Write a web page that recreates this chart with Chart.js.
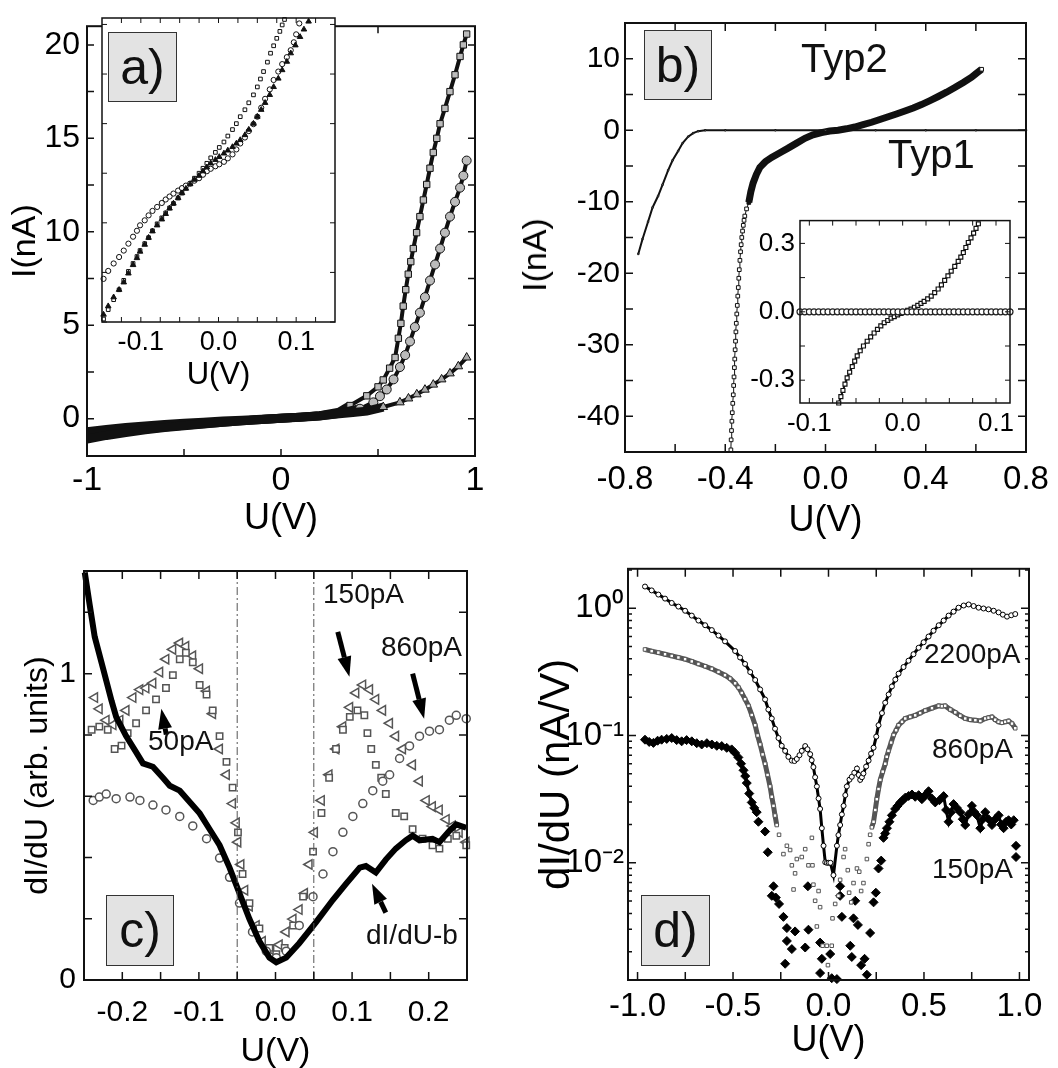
<!DOCTYPE html>
<html>
<head>
<meta charset="utf-8">
<script src="https://cdn.jsdelivr.net/npm/chart.js@4.4.1/dist/chart.umd.min.js"></script>
<style>
  html, body { margin: 0; padding: 0; background: #fff; }
  #page { position: relative; width: 1058px; height: 1068px; overflow: hidden; font-family: "Liberation Sans", Arial, sans-serif; }
  canvas { position: absolute; }
  .tag { position: absolute; background: #e3e3e3; border: 1px solid #333; box-sizing: border-box; text-align: center; font-size: 50px; line-height: 68px; color: #111; z-index: 5; }
  .note { position: absolute; font-size: 28px; line-height: 28px; white-space: nowrap; color: #111; z-index: 5; }
  .ytitle { position: absolute; font-size: 34px; line-height: 34px; white-space: nowrap; color: #000; transform: translate(-50%, -50%) rotate(-90deg); z-index: 5; }
</style>
</head>
<body>
<div id="page">
  <canvas id="cA"></canvas>
  <canvas id="cAi"></canvas>
  <canvas id="cB"></canvas>
  <canvas id="cBi"></canvas>
  <canvas id="cC"></canvas>
  <canvas id="cD"></canvas>

  <div class="ytitle" style="left:534px;top:255px;">I(nA)</div>

  <div class="tag" style="left:108px;top:32px;width:69px;height:70px;">a)</div>
  <div class="tag" style="left:644px;top:30px;width:68px;height:70px;">b)</div>
  <div class="tag" style="left:106px;top:895px;width:68px;height:71px;">c)</div>
  <div class="tag" style="left:641px;top:895px;width:69px;height:71px;">d)</div>

  <div class="note" style="left:801px;top:38px;font-size:40px;line-height:40px;">Typ2</div>
  <div class="note" style="left:888px;top:134px;font-size:40px;line-height:40px;">Typ1</div>
  <div class="note" style="left:323px;top:580px;">150pA</div>
  <div class="note" style="left:381px;top:633px;">860pA</div>
  <div class="note" style="left:148px;top:727px;">50pA</div>
  <div class="note" style="left:366px;top:921px;">dI/dU-b</div>
  <div class="note" style="left:924px;top:640px;">2200pA</div>
  <div class="note" style="left:932px;top:735px;">860pA</div>
  <div class="note" style="left:932px;top:855px;">150pA</div>
</div>
<script>
const FONT = '"Liberation Sans", Arial, sans-serif';

// ---- tick positions and labels ----
const aXTicks = [[-1, '-1'], [-0.5, ''], [0, '0'], [0.5, ''], [1, '1']];
const aYTicks = [[0, '0'], [2.5, ''], [5, '5'], [7.5, ''], [10, '10'], [12.5, ''], [15, '15'], [17.5, ''], [20, '20']];
const aiXTicks = [[-0.125, ''], [-0.1, '-0.1'], [-0.075, ''], [-0.05, ''], [-0.025, ''], [0, '0.0'], [0.025, ''], [0.05, ''], [0.075, ''], [0.1, '0.1'], [0.125, '']];
const aiYTicks = [[-3, ''], [-2, ''], [-1, ''], [0, ''], [1, ''], [2, ''], [3, '']];
const bXTicks = [[-0.8, '-0.8'], [-0.6, ''], [-0.4, '-0.4'], [-0.2, ''], [0, '0.0'], [0.2, ''], [0.4, '0.4'], [0.6, ''], [0.8, '0.8']];
const bYTicks = [[-45, ''], [-40, '-40'], [-35, ''], [-30, '-30'], [-25, ''], [-20, '-20'], [-15, ''], [-10, '-10'], [-5, ''], [0, '0'], [5, ''], [10, '10'], [15, '']];
const biXTicks = [[-0.1, '-0.1'], [-0.075, ''], [-0.05, ''], [-0.025, ''], [0, '0.0'], [0.025, ''], [0.05, ''], [0.075, ''], [0.1, '0.1']];
const biYTicks = [[-0.3, '-0.3'], [-0.15, ''], [0, '0.0'], [0.15, ''], [0.3, '0.3']];
const cXTicks = [[-0.2, '-0.2'], [-0.15, ''], [-0.1, '-0.1'], [-0.05, ''], [0, '0.0'], [0.05, ''], [0.1, '0.1'], [0.15, ''], [0.2, '0.2']];
const cYTicks = [[0, '0'], [0.2, ''], [0.4, ''], [0.6, ''], [0.8, ''], [1, '1'], [1.2, '']];
const dXTicks = [[-1, '-1.0'], [-0.75, ''], [-0.5, '-0.5'], [-0.25, ''], [0, '0.0'], [0.25, ''], [0.5, '0.5'], [0.75, ''], [1, '1.0']];
const dYTicks = [[0.002, '', 1], [0.003, '', 1], [0.004, '', 1], [0.005, '', 1], [0.006, '', 1], [0.007, '', 1], [0.008, '', 1], [0.009, '', 1],
  [0.01, '10\u207B\u00B2'], [0.02, '', 1], [0.03, '', 1], [0.04, '', 1], [0.05, '', 1], [0.06, '', 1], [0.07, '', 1], [0.08, '', 1], [0.09, '', 1],
  [0.1, '10\u207B\u00B9'], [0.2, '', 1], [0.3, '', 1], [0.4, '', 1], [0.5, '', 1], [0.6, '', 1], [0.7, '', 1], [0.8, '', 1], [0.9, '', 1],
  [1, '10\u2070'], [2, '', 1]];

// ---- a) I(U), three curves ----
const aSquares = [[-1.0, -1.0], [-0.9, -0.82], [-0.8, -0.68], [-0.7, -0.56], [-0.6, -0.45], [-0.5, -0.36], [-0.4, -0.27], [-0.3, -0.19], [-0.2, -0.12], [-0.1, -0.05], [0.0, 0.02], [0.1, 0.08], [0.2, 0.16], [0.3, 0.35], [0.356, 0.70], [0.442, 1.22], [0.5, 1.7], [0.527, 2.07], [0.56, 2.7], [0.588, 3.27], [0.605, 4.3], [0.618, 5.1], [0.630, 6.02], [0.643, 6.9], [0.656, 7.73], [0.669, 8.4], [0.682, 9.1], [0.699, 9.95], [0.716, 10.81], [0.734, 11.7], [0.751, 12.53], [0.768, 13.4], [0.785, 14.24], [0.803, 15.0], [0.820, 15.78], [0.845, 16.6], [0.871, 17.5], [0.897, 18.4], [0.923, 19.38], [0.94, 20.0], [0.957, 20.58]];
const aCircles = [[-1.0, -0.7], [-0.9, -0.58], [-0.8, -0.48], [-0.7, -0.4], [-0.6, -0.32], [-0.5, -0.25], [-0.4, -0.19], [-0.3, -0.13], [-0.2, -0.08], [-0.1, -0.03], [0.0, 0.02], [0.1, 0.07], [0.2, 0.14], [0.3, 0.28], [0.407, 0.53], [0.476, 0.87], [0.51, 1.2], [0.545, 1.56], [0.58, 2.1], [0.613, 2.76], [0.64, 3.4], [0.665, 4.13], [0.69, 4.9], [0.716, 5.67], [0.742, 6.5], [0.768, 7.39], [0.794, 8.25], [0.820, 9.1], [0.845, 9.95], [0.871, 10.81], [0.897, 11.6], [0.923, 12.36], [0.94, 13.0], [0.957, 13.81]];
const aTriangles = [[-1.0, -1.1], [-0.9, -0.9], [-0.8, -0.74], [-0.7, -0.6], [-0.6, -0.48], [-0.5, -0.38], [-0.4, -0.29], [-0.3, -0.2], [-0.2, -0.12], [-0.1, -0.05], [0.0, 0.02], [0.1, 0.08], [0.2, 0.15], [0.3, 0.26], [0.37, 0.33], [0.442, 0.40], [0.527, 0.62], [0.613, 0.87], [0.657, 1.08], [0.70, 1.30], [0.742, 1.55], [0.785, 1.82], [0.828, 2.1], [0.871, 2.42], [0.914, 2.8], [0.957, 3.27]];

// a) inset, zoom around 0 V (arbitrary units)
const aiSquares = [[-0.148, -2.94], [-0.142, -2.75], [-0.135, -2.55], [-0.128, -2.35], [-0.122, -2.16], [-0.116, -1.98], [-0.11, -1.82], [-0.105, -1.68], [-0.101, -1.56], [-0.095, -1.42], [-0.09, -1.3], [-0.085, -1.16], [-0.079, -1.02], [-0.073, -0.9], [-0.068, -0.8], [-0.063, -0.7], [-0.058, -0.61], [-0.052, -0.5], [-0.047, -0.4], [-0.042, -0.3], [-0.0365, -0.21], [-0.031, -0.1], [-0.025, 0.0], [-0.02, 0.1], [-0.015, 0.2], [-0.01, 0.31], [-0.004, 0.42], [0.001, 0.52], [0.007, 0.63], [0.012, 0.75], [0.018, 0.88], [0.023, 1.0], [0.028, 1.14], [0.034, 1.28], [0.039, 1.42], [0.045, 1.58], [0.05, 1.74], [0.054, 1.9], [0.058, 2.05], [0.063, 2.24], [0.067, 2.42], [0.071, 2.57], [0.075, 2.72], [0.079, 2.86], [0.082, 2.99], [0.085, 3.1]];
const aiCircles = [[-0.148, -2.13], [-0.142, -1.97], [-0.135, -1.82], [-0.128, -1.69], [-0.122, -1.56], [-0.116, -1.42], [-0.11, -1.28], [-0.105, -1.16], [-0.101, -1.05], [-0.095, -0.95], [-0.09, -0.85], [-0.085, -0.76], [-0.079, -0.68], [-0.073, -0.6], [-0.068, -0.53], [-0.063, -0.47], [-0.058, -0.41], [-0.052, -0.35], [-0.047, -0.3], [-0.042, -0.25], [-0.0365, -0.21], [-0.031, -0.15], [-0.025, -0.1], [-0.02, -0.03], [-0.015, 0.04], [-0.01, 0.09], [-0.004, 0.14], [0.001, 0.18], [0.007, 0.23], [0.012, 0.3], [0.018, 0.38], [0.023, 0.48], [0.028, 0.6], [0.034, 0.72], [0.039, 0.85], [0.045, 0.99], [0.05, 1.14], [0.055, 1.32], [0.06, 1.5], [0.066, 1.69], [0.071, 1.88], [0.077, 2.05], [0.082, 2.2], [0.088, 2.34], [0.093, 2.48], [0.097, 2.64], [0.1, 2.8], [0.104, 3.02]];
const aiTriangles = [[-0.148, -2.85], [-0.142, -2.68], [-0.135, -2.5], [-0.128, -2.35], [-0.122, -2.2], [-0.116, -2.02], [-0.11, -1.85], [-0.105, -1.71], [-0.101, -1.58], [-0.095, -1.44], [-0.09, -1.3], [-0.085, -1.17], [-0.079, -1.05], [-0.073, -0.93], [-0.068, -0.82], [-0.063, -0.71], [-0.058, -0.61], [-0.052, -0.5], [-0.047, -0.4], [-0.042, -0.31], [-0.0365, -0.22], [-0.031, -0.13], [-0.025, -0.05], [-0.02, 0.04], [-0.015, 0.12], [-0.01, 0.2], [-0.004, 0.27], [0.001, 0.33], [0.007, 0.4], [0.012, 0.46], [0.018, 0.53], [0.023, 0.6], [0.028, 0.67], [0.034, 0.77], [0.039, 0.88], [0.045, 1.0], [0.05, 1.14], [0.055, 1.28], [0.06, 1.42], [0.066, 1.58], [0.071, 1.74], [0.077, 1.91], [0.082, 2.08], [0.088, 2.25], [0.093, 2.42], [0.099, 2.58], [0.105, 2.75], [0.11, 2.9], [0.116, 3.06]];

// ---- b) Typ1 / Typ2 ----
const bTyp1 = [[-0.747, -17.3], [-0.73, -15.2], [-0.708, -12.8], [-0.69, -10.8], [-0.668, -9.2], [-0.65, -7.6], [-0.628, -5.6], [-0.61, -4.2], [-0.588, -2.9], [-0.57, -1.8], [-0.548, -0.9], [-0.528, -0.4], [-0.508, -0.13], [-0.48, 0], [-0.4, 0], [-0.2, 0], [0, 0], [0.2, 0], [0.4, 0], [0.6, 0], [0.8, 0]];
const bTyp2 = [[-0.3775, -44.7], [-0.3765, -43.3], [-0.375, -42], [-0.3735, -40.7], [-0.372, -39.5], [-0.370, -38.2], [-0.368, -37], [-0.3665, -35.7], [-0.365, -34.5], [-0.3635, -33.2], [-0.362, -32], [-0.3605, -30.7], [-0.359, -29.5], [-0.3575, -28.2], [-0.356, -27], [-0.354, -25.7], [-0.352, -24.5], [-0.350, -23.2], [-0.348, -22], [-0.346, -20.7], [-0.344, -19.5], [-0.3415, -18.2], [-0.339, -17], [-0.3365, -16], [-0.334, -15], [-0.331, -14.1], [-0.328, -13.3], [-0.325, -12.6], [-0.322, -12], [-0.315, -11], [-0.306, -10.1], [-0.298, -8.6], [-0.289, -7.4], [-0.276, -6.2], [-0.262, -5.2], [-0.24, -4.4], [-0.215, -3.8], [-0.18, -3.1], [-0.149, -2.5], [-0.115, -1.8], [-0.082, -1.13], [-0.05, -0.65], [-0.016, -0.32], [0.017, -0.1], [0.05, 0], [0.083, 0.2], [0.117, 0.45], [0.15, 0.78], [0.184, 1.12], [0.217, 1.5], [0.25, 1.89], [0.283, 2.28], [0.317, 2.7], [0.35, 3.12], [0.383, 3.59], [0.417, 4.15], [0.45, 4.72], [0.483, 5.32], [0.516, 5.97], [0.55, 6.68], [0.583, 7.41], [0.6, 7.9], [0.623, 8.53]];
// b) inset
const biTyp1U = [-0.11, -0.105, -0.1, -0.095, -0.09, -0.085, -0.08, -0.075, -0.07, -0.065, -0.06, -0.055, -0.05, -0.045, -0.04, -0.035, -0.03, -0.025, -0.02, -0.015, -0.01, -0.005, 0, 0.005, 0.01, 0.015, 0.02, 0.025, 0.03, 0.035, 0.04, 0.045, 0.05, 0.055, 0.06, 0.065, 0.07, 0.075, 0.08, 0.085, 0.09, 0.095, 0.1, 0.105, 0.11, 0.115];
const biTyp1I = [0, 0, 0, 0, 0, 0, 0, 0, 0, 0, 0, 0, 0, 0, 0, 0, 0, 0, 0, 0, 0, 0, 0, 0, 0, 0, 0, 0, 0, 0, 0, 0, 0, 0, 0, 0, 0, 0, 0, 0, 0, 0, 0, 0, 0, 0];
const biTyp2 = [[-0.0685, -0.40], [-0.0662, -0.372], [-0.064, -0.345], [-0.0618, -0.317], [-0.0595, -0.29], [-0.0568, -0.265], [-0.054, -0.24], [-0.0514, -0.216], [-0.0487, -0.193], [-0.0455, -0.171], [-0.042, -0.15], [-0.038, -0.129], [-0.0343, -0.11], [-0.0306, -0.093], [-0.027, -0.077], [-0.0234, -0.062], [-0.0198, -0.048], [-0.016, -0.038], [-0.0125, -0.028], [-0.009, -0.021], [-0.0054, -0.0137], [-0.0018, -0.007], [0.0018, 0], [0.0054, 0.006], [0.009, 0.012], [0.0126, 0.02], [0.0162, 0.028], [0.0196, 0.037], [0.023, 0.046], [0.0268, 0.057], [0.0306, 0.069], [0.0343, 0.084], [0.038, 0.1], [0.0415, 0.118], [0.045, 0.138], [0.0485, 0.158], [0.052, 0.178], [0.0558, 0.199], [0.0595, 0.221], [0.0623, 0.24], [0.065, 0.26], [0.0677, 0.282], [0.0703, 0.304], [0.0732, 0.324], [0.076, 0.345], [0.0786, 0.366], [0.0811, 0.386]];

// ---- c) dI/dU, arb. units ----
const cBackground = [[-0.249, 1.33], [-0.2426, 1.225], [-0.236, 1.12], [-0.225, 1.016], [-0.214, 0.911], [-0.208, 0.859], [-0.195, 0.796], [-0.182, 0.744], [-0.173, 0.707], [-0.160, 0.696], [-0.147, 0.66], [-0.138, 0.634], [-0.125, 0.618], [-0.112, 0.581], [-0.099, 0.544], [-0.086, 0.492], [-0.073, 0.44], [-0.060, 0.367], [-0.047, 0.283], [-0.034, 0.199], [-0.021, 0.126], [-0.008, 0.073], [0.001, 0.058], [0.014, 0.073], [0.031, 0.12], [0.053, 0.189], [0.075, 0.262], [0.092, 0.314], [0.11, 0.367], [0.118, 0.372], [0.131, 0.351], [0.144, 0.393], [0.157, 0.429], [0.17, 0.456], [0.179, 0.471], [0.188, 0.456], [0.205, 0.461], [0.214, 0.45], [0.227, 0.487], [0.236, 0.508], [0.249, 0.497]];
const c50pA = [[-0.240, 0.817], [-0.230, 0.827], [-0.219, 0.817], [-0.210, 0.754], [-0.201, 0.765], [-0.193, 0.806], [-0.182, 0.838], [-0.169, 0.880], [-0.156, 0.916], [-0.143, 0.953], [-0.134, 0.995], [-0.125, 1.047], [-0.117, 1.068], [-0.108, 1.037], [-0.099, 0.963], [-0.090, 0.932], [-0.082, 0.880], [-0.073, 0.796], [-0.064, 0.712], [-0.056, 0.628], [-0.049, 0.482], [-0.043, 0.346], [-0.034, 0.251], [-0.021, 0.168], [-0.008, 0.105], [0.001, 0.084], [0.012, 0.105], [0.023, 0.178], [0.036, 0.272], [0.049, 0.419], [0.060, 0.545], [0.070, 0.660], [0.079, 0.754], [0.088, 0.817], [0.097, 0.859], [0.107, 0.880], [0.116, 0.864], [0.120, 0.806], [0.125, 0.754], [0.131, 0.702], [0.138, 0.660], [0.144, 0.607], [0.157, 0.545], [0.168, 0.534], [0.179, 0.492], [0.192, 0.461], [0.205, 0.440], [0.214, 0.429], [0.225, 0.461], [0.236, 0.471], [0.249, 0.440]];
const c150pA = [[-0.236, 0.922], [-0.230, 0.885], [-0.221, 0.848], [-0.212, 0.833], [-0.203, 0.848], [-0.195, 0.880], [-0.186, 0.922], [-0.177, 0.948], [-0.169, 0.953], [-0.160, 0.969], [-0.151, 1.005], [-0.143, 1.047], [-0.134, 1.079], [-0.125, 1.100], [-0.117, 1.089], [-0.108, 1.058], [-0.099, 1.016], [-0.090, 0.943], [-0.082, 0.869], [-0.073, 0.754], [-0.064, 0.670], [-0.056, 0.576], [-0.051, 0.513], [-0.049, 0.450], [-0.045, 0.377], [-0.040, 0.293], [-0.034, 0.241], [-0.025, 0.178], [-0.017, 0.126], [-0.006, 0.099], [0.005, 0.115], [0.014, 0.157], [0.023, 0.199], [0.031, 0.230], [0.038, 0.283], [0.044, 0.377], [0.051, 0.482], [0.060, 0.586], [0.070, 0.670], [0.079, 0.754], [0.088, 0.827], [0.097, 0.890], [0.105, 0.937], [0.114, 0.963], [0.123, 0.948], [0.131, 0.916], [0.140, 0.880], [0.149, 0.838], [0.157, 0.796], [0.166, 0.754], [0.179, 0.702], [0.188, 0.649], [0.197, 0.586], [0.205, 0.566], [0.214, 0.555], [0.223, 0.524], [0.231, 0.503], [0.240, 0.482], [0.249, 0.450]];
const c860pA = [[-0.238, 0.586], [-0.230, 0.597], [-0.221, 0.607], [-0.208, 0.592], [-0.190, 0.597], [-0.177, 0.586], [-0.160, 0.571], [-0.143, 0.555], [-0.125, 0.534], [-0.108, 0.503], [-0.090, 0.461], [-0.073, 0.398], [-0.060, 0.335], [-0.047, 0.251], [-0.030, 0.157], [-0.012, 0.094], [0.001, 0.073], [0.014, 0.094], [0.031, 0.178], [0.049, 0.272], [0.062, 0.346], [0.075, 0.419], [0.088, 0.482], [0.101, 0.534], [0.114, 0.576], [0.127, 0.618], [0.140, 0.649], [0.149, 0.670], [0.162, 0.723], [0.175, 0.764], [0.188, 0.796], [0.201, 0.812], [0.214, 0.817], [0.227, 0.848], [0.236, 0.864], [0.249, 0.853]];
const cGapLines = [-0.05, 0.05];
const cArrows = [[0.0813, 1.136, 0.0965, 0.99], [0.179, 1.0, 0.194, 0.853], [-0.1426, 0.801, -0.149, 0.885], [0.144, 0.22, 0.126, 0.314]];

// ---- d) dI/dU (nA/V), log scale ----
const d2200pA = [[-0.961, 1.48], [-0.926, 1.38], [-0.891, 1.28], [-0.856, 1.19], [-0.821, 1.10], [-0.786, 1.03], [-0.751, 0.955], [-0.716, 0.875], [-0.681, 0.80], [-0.646, 0.735], [-0.611, 0.673], [-0.576, 0.61], [-0.542, 0.549], [-0.489, 0.461], [-0.463, 0.41], [-0.437, 0.365], [-0.41, 0.315], [-0.384, 0.273], [-0.358, 0.23], [-0.332, 0.192], [-0.315, 0.16], [-0.297, 0.136], [-0.28, 0.113], [-0.262, 0.0955], [-0.245, 0.083], [-0.227, 0.0757], [-0.21, 0.068], [-0.192, 0.0635], [-0.178, 0.063], [-0.166, 0.0654], [-0.152, 0.07], [-0.140, 0.0757], [-0.122, 0.0826], [-0.11, 0.078], [-0.096, 0.0713], [-0.088, 0.064], [-0.079, 0.0565], [-0.07, 0.047], [-0.061, 0.0398], [-0.052, 0.032], [-0.044, 0.0265], [-0.035, 0.0187], [-0.026, 0.0136], [-0.017, 0.0101], [-0.008, 0.01], [0.001, 0.01], [0.01, 0.01], [0.026, 0.008], [0.044, 0.0136], [0.052, 0.0165], [0.061, 0.0198], [0.07, 0.024], [0.079, 0.028], [0.088, 0.034], [0.096, 0.0398], [0.11, 0.045], [0.122, 0.0474], [0.135, 0.051], [0.149, 0.055], [0.158, 0.049], [0.166, 0.0448], [0.175, 0.047], [0.183, 0.0503], [0.197, 0.057], [0.21, 0.0635], [0.223, 0.072], [0.236, 0.0802], [0.25, 0.098], [0.262, 0.1205], [0.28, 0.15], [0.297, 0.181], [0.315, 0.21], [0.332, 0.243], [0.35, 0.275], [0.367, 0.306], [0.393, 0.345], [0.419, 0.387], [0.445, 0.435], [0.472, 0.489], [0.498, 0.54], [0.524, 0.599], [0.55, 0.665], [0.577, 0.734], [0.603, 0.80], [0.629, 0.875], [0.655, 0.94], [0.681, 1.01], [0.708, 1.05], [0.734, 1.07], [0.76, 1.04], [0.786, 1.01], [0.812, 0.995], [0.838, 0.98], [0.865, 0.955], [0.891, 0.927], [0.913, 0.89], [0.935, 0.859], [0.957, 0.88], [0.978, 0.90]];
const d860Left = [[-0.961, 0.474], [-0.926, 0.46], [-0.891, 0.448], [-0.856, 0.435], [-0.821, 0.422], [-0.786, 0.41], [-0.751, 0.398], [-0.716, 0.382], [-0.681, 0.365], [-0.646, 0.35], [-0.611, 0.334], [-0.576, 0.316], [-0.542, 0.298], [-0.515, 0.28], [-0.489, 0.257], [-0.471, 0.238], [-0.454, 0.216], [-0.437, 0.193], [-0.419, 0.171], [-0.402, 0.145], [-0.384, 0.1205], [-0.371, 0.10], [-0.358, 0.085], [-0.345, 0.071], [-0.332, 0.060], [-0.319, 0.049], [-0.306, 0.0398], [-0.297, 0.033], [-0.288, 0.028], [-0.28, 0.0235], [-0.271, 0.0198]];
const d860Scatter = [[-0.259, 0.0166], [-0.236, 0.0117], [-0.218, 0.0136], [-0.201, 0.0126], [-0.192, 0.00955], [-0.175, 0.00826], [-0.166, 0.0107], [-0.183, 0.00617], [-0.140, 0.0111], [-0.122, 0.0128], [-0.105, 0.00955], [-0.087, 0.0157], [-0.084, 0.00955], [-0.079, 0.00673], [-0.070, 0.00503], [-0.052, 0.0060], [-0.044, 0.00448], [-0.061, 0.00316], [-0.031, 0.00223], [-0.009, 0.00223], [0.017, 0.00223], [-0.003, 0.00157], [0.021, 0.00366], [0.035, 0.00475], [0.052, 0.0055], [0.061, 0.00735], [0.079, 0.0111], [0.087, 0.0128], [0.101, 0.00875], [0.108, 0.00582], [0.119, 0.00489], [0.131, 0.00693], [0.149, 0.00902], [0.161, 0.00851], [0.171, 0.0060], [0.183, 0.00693], [0.201, 0.0107], [0.210, 0.014], [0.218, 0.0166]];
const d860Right = [[0.227, 0.019], [0.236, 0.021], [0.245, 0.026], [0.253, 0.0316], [0.262, 0.038], [0.271, 0.0448], [0.284, 0.052], [0.297, 0.060], [0.305, 0.068], [0.314, 0.0757], [0.328, 0.088], [0.341, 0.101], [0.354, 0.11], [0.367, 0.1205], [0.385, 0.128], [0.402, 0.136], [0.428, 0.14], [0.454, 0.144], [0.48, 0.15], [0.507, 0.157], [0.542, 0.164], [0.577, 0.171], [0.594, 0.17], [0.611, 0.171], [0.638, 0.16], [0.664, 0.152], [0.69, 0.143], [0.716, 0.136], [0.742, 0.133], [0.769, 0.132], [0.795, 0.13], [0.821, 0.136], [0.838, 0.138], [0.856, 0.140], [0.873, 0.133], [0.891, 0.128], [0.908, 0.126], [0.926, 0.128], [0.943, 0.13], [0.961, 0.124], [0.978, 0.114]];
const d150Left = [[-0.961, 0.0927], [-0.939, 0.089], [-0.917, 0.0875], [-0.895, 0.091], [-0.874, 0.0927], [-0.847, 0.094], [-0.821, 0.0955], [-0.795, 0.092], [-0.769, 0.090], [-0.743, 0.092], [-0.716, 0.090], [-0.69, 0.087], [-0.664, 0.085], [-0.637, 0.087], [-0.611, 0.085], [-0.585, 0.083], [-0.559, 0.0826], [-0.533, 0.08], [-0.507, 0.0778], [-0.489, 0.073], [-0.472, 0.0673], [-0.458, 0.06], [-0.445, 0.0533], [-0.436, 0.048], [-0.428, 0.0423], [-0.415, 0.035], [-0.402, 0.0298], [-0.389, 0.027], [-0.376, 0.025]];
const d150Scatter = [[-0.367, 0.021], [-0.332, 0.0176], [-0.318, 0.0121], [-0.288, 0.00654], [-0.297, 0.0055], [-0.276, 0.00533], [-0.259, 0.00475], [-0.236, 0.00376], [-0.218, 0.00307], [-0.175, 0.00289], [-0.192, 0.0021], [-0.218, 0.00243], [-0.227, 0.00161], [-0.105, 0.00298], [-0.122, 0.00216], [-0.108, 0.00654], [-0.044, 0.00236], [-0.035, 0.00176], [-0.044, 0.00136], [0.009, 0.00192], [0.017, 0.00124], [0.044, 0.00122], [0.070, 0.00376], [0.061, 0.0055], [0.061, 0.00654], [0.114, 0.00223], [0.122, 0.00182], [0.131, 0.00366], [0.140, 0.00503], [0.154, 0.00325], [0.171, 0.00157], [0.189, 0.00176], [0.201, 0.00132], [0.218, 0.00281], [0.236, 0.00489], [0.248, 0.00582], [0.262, 0.00902], [0.276, 0.0104], [0.982, 0.0136], [0.982, 0.0111]];
const d150Right = [[0.288, 0.0157], [0.297, 0.017], [0.306, 0.0187], [0.319, 0.021], [0.332, 0.0236], [0.349, 0.0265], [0.362, 0.028], [0.376, 0.0298], [0.389, 0.031], [0.402, 0.0325], [0.42, 0.0335], [0.437, 0.0344], [0.454, 0.033], [0.472, 0.034], [0.489, 0.0316], [0.507, 0.034], [0.524, 0.0365], [0.541, 0.032], [0.559, 0.0298], [0.581, 0.031], [0.603, 0.0334], [0.616, 0.026], [0.629, 0.021], [0.642, 0.025], [0.655, 0.0289], [0.672, 0.027], [0.69, 0.025], [0.703, 0.022], [0.716, 0.0198], [0.733, 0.024], [0.751, 0.028], [0.764, 0.025], [0.777, 0.0236], [0.795, 0.0187], [0.808, 0.022], [0.821, 0.025], [0.838, 0.022], [0.856, 0.0198], [0.873, 0.022], [0.891, 0.0236], [0.904, 0.02], [0.917, 0.0187], [0.93, 0.021], [0.943, 0.0216], [0.957, 0.02], [0.97, 0.0216]];

const pts = a => a.map(p => ({ x: p[0], y: p[1] }));

// frame + inward tick marks on all four sides
const framePlugin = {
  id: 'frame',
  beforeDatasetsDraw(chart, args, opts) {
    if (!opts.fill) return;
    const a = chart.chartArea, ctx = chart.ctx;
    ctx.save();
    ctx.fillStyle = opts.fill;
    ctx.fillRect(a.left, a.top, a.width, a.height);
    ctx.restore();
  },
  afterDraw(chart, args, opts) {
    const { ctx, chartArea: a, scales } = chart;
    ctx.save();
    ctx.strokeStyle = '#111';
    ctx.lineWidth = opts.tickWidth || 1.5;
    ctx.beginPath();
    scales.x.ticks.forEach(t => {
      const p = scales.x.getPixelForValue(t.value);
      const l = t.minor ? opts.minorLen : opts.len;
      ctx.moveTo(p, a.bottom); ctx.lineTo(p, a.bottom - l);
      ctx.moveTo(p, a.top); ctx.lineTo(p, a.top + l);
    });
    scales.y.ticks.forEach(t => {
      const p = scales.y.getPixelForValue(t.value);
      const l = t.minor ? opts.minorLen : opts.len;
      ctx.moveTo(a.left, p); ctx.lineTo(a.left + l, p);
      ctx.moveTo(a.right, p); ctx.lineTo(a.right - l, p);
    });
    ctx.stroke();
    ctx.lineWidth = opts.width || 2;
    ctx.strokeRect(a.left, a.top, a.width, a.height);
    ctx.restore();
  }
};

// arrows and dash-dot guide lines (panel c)
const notesPlugin = {
  id: 'notes',
  afterDatasetsDraw(chart, args, opts) {
    const { ctx, chartArea: area, scales: { x, y } } = chart;
    ctx.save();
    (opts.vlines || []).forEach(v => {
      const px = x.getPixelForValue(v);
      ctx.strokeStyle = '#555'; ctx.lineWidth = 1;
      ctx.setLineDash([8, 3, 2, 3]);
      ctx.beginPath(); ctx.moveTo(px, area.top); ctx.lineTo(px, area.bottom); ctx.stroke();
    });
    ctx.setLineDash([]);
    ctx.fillStyle = '#000'; ctx.strokeStyle = '#000'; ctx.lineWidth = 5;
    (opts.arrows || []).forEach(a => {
      const x0 = x.getPixelForValue(a[0]), y0 = y.getPixelForValue(a[1]);
      const x1 = x.getPixelForValue(a[2]), y1 = y.getPixelForValue(a[3]);
      const ang = Math.atan2(y1 - y0, x1 - x0), head = 20, half = 7;
      const bx = x1 - head * Math.cos(ang), by = y1 - head * Math.sin(ang);
      ctx.beginPath(); ctx.moveTo(x0, y0); ctx.lineTo(bx, by); ctx.stroke();
      ctx.beginPath(); ctx.moveTo(x1, y1);
      ctx.lineTo(bx + half * Math.sin(ang), by - half * Math.cos(ang));
      ctx.lineTo(bx - half * Math.sin(ang), by + half * Math.cos(ang));
      ctx.closePath(); ctx.fill();
    });
    ctx.restore();
  }
};

function xAxis(c, box, plot) {
  return {
    type: c.type || 'linear', position: 'bottom', min: c.min, max: c.max,
    grid: { display: false, drawTicks: false }, border: { display: false },
    afterBuildTicks: s => { s.ticks = c.ticks.map(t => ({ value: t[0], minor: !!t[2] })); },
    afterFit: s => { s.height = box.y + box.h - plot.b; },
    ticks: {
      display: !!c.size, autoSkip: false, maxRotation: 0, color: '#000',
      padding: c.size ? c.labelY - plot.b - 0.6 * c.size : 0,
      font: { family: FONT, size: c.size || 10 },
      callback: (v, i) => c.ticks[i][1]
    },
    title: c.title ? {
      display: true, text: c.title, color: '#000', font: { family: FONT, size: c.titleSize },
      padding: { top: 0, bottom: box.y + box.h - c.titleY - 0.6 * c.titleSize }
    } : { display: false }
  };
}

function yAxis(c, box, plot) {
  return {
    type: c.type || 'linear', position: 'left', min: c.min, max: c.max,
    grid: { display: false, drawTicks: false }, border: { display: false },
    afterBuildTicks: s => { s.ticks = c.ticks.map(t => ({ value: t[0], minor: !!t[2] })); },
    afterFit: s => { s.width = plot.l - box.x; },
    ticks: {
      display: !!c.size, autoSkip: false, maxRotation: 0, color: '#000',
      padding: c.size ? plot.l - c.labelRight : 0,
      font: { family: FONT, size: c.size || 10 },
      callback: (v, i) => c.ticks[i][1]
    },
    title: c.title ? {
      display: true, text: c.title, color: '#000', font: { family: FONT, size: c.titleSize },
      padding: { top: c.titleX - box.x - 0.6 * c.titleSize, bottom: 0 }
    } : { display: false }
  };
}

function panel(id, box, plot, spec) {
  const cv = document.getElementById(id);
  cv.width = box.w; cv.height = box.h;
  cv.style.left = box.x + 'px'; cv.style.top = box.y + 'px';
  cv.style.zIndex = spec.z || 1;
  return new Chart(cv, {
    type: 'scatter',
    data: { datasets: spec.datasets },
    options: {
      responsive: false, animation: false, events: [],
      layout: { padding: { left: 0, bottom: 0, top: plot.t - box.y, right: box.x + box.w - plot.r } },
      elements: { line: { tension: 0 } },
      plugins: { legend: { display: false }, tooltip: { enabled: false }, frame: spec.frame, notes: spec.notes || {} },
      scales: { x: xAxis(spec.x, box, plot), y: yAxis(spec.y, box, plot) }
    },
    plugins: [framePlugin, notesPlugin]
  });
}

// marker dataset helper
function series(data, style) {
  return Object.assign({ data: pts(data), showLine: false, clip: 6, pointBorderWidth: 1 }, style);
}

// the flat part of the a) curves is one dense black band, markers only show on the rise
const bandRadius = r => ctx => (ctx.raw && ctx.raw.y > 0.45 ? r : 0);
const bandWidth = ctx => (ctx.p0.parsed.y < 0.45 ? 9 : 4);

// a) main
panel('cA', { x: 0, y: 0, w: 500, h: 545 }, { l: 87, t: 8, r: 475, b: 456 }, {
  frame: { len: 7, minorLen: 7, width: 2 },
  x: { min: -1, max: 1, ticks: aXTicks, size: 34, labelY: 481, title: 'U(V)', titleSize: 36, titleY: 519 },
  y: { min: -2, max: 21, ticks: aYTicks, size: 32, labelRight: 80, title: 'I(nA)', titleSize: 34, titleX: 26 },
  datasets: [
    series(aTriangles, { pointStyle: 'triangle', pointRadius: bandRadius(5), pointBackgroundColor: '#aaa', pointBorderColor: '#111', showLine: true, borderColor: '#111', borderWidth: 5, segment: { borderWidth: bandWidth } }),
    series(aCircles, { pointStyle: 'circle', pointRadius: bandRadius(4.5), pointBackgroundColor: '#bbb', pointBorderColor: '#111', showLine: true, borderColor: '#111', borderWidth: 5, segment: { borderWidth: bandWidth } }),
    series(aSquares, { pointStyle: 'rect', pointRadius: bandRadius(4.5), pointBackgroundColor: '#bbb', pointBorderColor: '#111', showLine: true, borderColor: '#111', borderWidth: 5, segment: { borderWidth: bandWidth } })
  ]
});

// a) inset
panel('cAi', { x: 90, y: 10, w: 260, h: 385 }, { l: 102, t: 18, r: 335, b: 322 }, {
  z: 2,
  frame: { len: 5, minorLen: 5, width: 1.5, tickWidth: 1, fill: '#fff' },
  x: { min: -0.15, max: 0.15, ticks: aiXTicks, size: 27, labelY: 343, title: 'U(V)', titleSize: 31, titleY: 375 },
  y: { min: -3, max: 3.13, ticks: aiYTicks },
  datasets: [
    series(aiTriangles, { pointStyle: 'triangle', pointRadius: 3.2, pointBackgroundColor: '#111', pointBorderColor: '#111' }),
    series(aiCircles, { pointStyle: 'circle', pointRadius: 2.6, pointBackgroundColor: '#fff', pointBorderColor: '#111' }),
    series(aiSquares, { pointStyle: 'rect', pointRadius: 2.6, pointBackgroundColor: '#fff', pointBorderColor: '#111' })
  ]
});

// b) main (y title is the rotated div above, it sits below the axis centre)
panel('cB', { x: 500, y: 0, w: 558, h: 545 }, { l: 625, t: 7, r: 1026, b: 452 }, {
  frame: { len: 8, minorLen: 8, width: 2 },
  x: { min: -0.8, max: 0.8, ticks: bXTicks, size: 33, labelY: 480, title: 'U(V)', titleSize: 36, titleY: 521 },
  y: { min: -45, max: 15, ticks: bYTicks, size: 30, labelRight: 620 },
  datasets: [
    series(bTyp1, { pointStyle: 'rect', pointRadius: 1, pointBackgroundColor: '#fff', pointBorderColor: '#111', showLine: true, borderColor: '#111', borderWidth: 2 }),
    series(bTyp2, {
      pointStyle: 'rect', pointRadius: 2.6, pointBorderColor: '#111', showLine: true, borderColor: '#111', borderWidth: 1,
      pointBackgroundColor: ctx => (ctx.raw && ctx.raw.y > -10.5 && ctx.raw.y < 8 ? '#111' : '#fff'),
      segment: { borderWidth: ctx => (ctx.p0.parsed.y > -10.5 ? 7 : 1) }
    })
  ]
});

// b) inset
panel('cBi', { x: 735, y: 200, w: 290, h: 245 }, { l: 800, t: 211, r: 1010, b: 403 }, {
  z: 2,
  frame: { len: 5, minorLen: 5, width: 1.5, tickWidth: 1, fill: '#fff' },
  x: { min: -0.11, max: 0.115, ticks: biXTicks, size: 26, labelY: 424 },
  y: { min: -0.4, max: 0.4, ticks: biYTicks, size: 26, labelRight: 795 },
  datasets: [
    { data: biTyp1U.map((u, i) => ({ x: u, y: biTyp1I[i] })), showLine: false, clip: 4, pointStyle: 'circle', pointRadius: 3, pointBackgroundColor: '#fff', pointBorderColor: '#222', pointBorderWidth: 1.2 },
    series(biTyp2, { pointStyle: 'rect', pointRadius: 2.8, pointBackgroundColor: '#fff', pointBorderColor: '#111', pointBorderWidth: 1.2, showLine: true, borderColor: '#111', borderWidth: 2 })
  ]
});

// c)
panel('cC', { x: 0, y: 545, w: 520, h: 535 }, { l: 84, t: 555, r: 467, b: 980 }, {
  frame: { len: 8, minorLen: 8, width: 2 },
  notes: { vlines: cGapLines, arrows: cArrows },
  x: { min: -0.25, max: 0.25, ticks: cXTicks, size: 30, labelY: 1013, title: 'U(V)', titleSize: 34, titleY: 1052 },
  y: { min: 0, max: 1.335, ticks: cYTicks, size: 30, labelRight: 76, title: 'dI/dU (arb. units)', titleSize: 32, titleX: 38 },
  datasets: [
    series(cBackground, { pointRadius: 0, showLine: true, borderColor: '#000', borderWidth: 6 }),
    series(c860pA, { pointStyle: 'circle', pointRadius: 4, pointBackgroundColor: '#fff', pointBorderColor: '#555', pointBorderWidth: 1.5 }),
    series(c50pA, { pointStyle: 'rect', pointRadius: 4.5, pointBackgroundColor: '#fff', pointBorderColor: '#555', pointBorderWidth: 1.5 }),
    series(c150pA, { pointStyle: 'triangle', pointRotation: -90, pointRadius: 5.5, pointBackgroundColor: '#fff', pointBorderColor: '#555', pointBorderWidth: 1.5 })
  ]
});

// d)
panel('cD', { x: 520, y: 545, w: 538, h: 535 }, { l: 628, t: 555, r: 1029, b: 980 }, {
  frame: { len: 8, minorLen: 4, width: 2 },
  x: { min: -1.05, max: 1.05, ticks: dXTicks, size: 33, labelY: 1007, title: 'U(V)', titleSize: 36, titleY: 1041 },
  y: { type: 'logarithmic', min: 0.0012, max: 2.04, ticks: dYTicks, size: 33, labelRight: 624, title: 'dI/dU (nA/V)', titleSize: 42, titleX: 557 },
  datasets: [
    series(d2200pA, { pointStyle: 'circle', pointRadius: 2.5, pointBackgroundColor: '#fff', pointBorderColor: '#000', showLine: true, borderColor: '#000', borderWidth: 3 }),
    series(d860Left, { pointStyle: 'rect', pointRadius: 2.5, pointBackgroundColor: '#fff', pointBorderColor: '#555', showLine: true, borderColor: '#555', borderWidth: 5 }),
    series(d860Scatter, { pointStyle: 'rect', pointRadius: 2.5, pointBackgroundColor: '#fff', pointBorderColor: '#555' }),
    series(d860Right, { pointStyle: 'rect', pointRadius: 2.5, pointBackgroundColor: '#fff', pointBorderColor: '#555', showLine: true, borderColor: '#555', borderWidth: 5 }),
    series(d150Left, { pointStyle: 'rectRot', pointRadius: 4.5, pointBackgroundColor: '#000', pointBorderColor: '#000', showLine: true, borderColor: '#000', borderWidth: 3 }),
    series(d150Scatter, { pointStyle: 'rectRot', pointRadius: 4.5, pointBackgroundColor: '#000', pointBorderColor: '#000' }),
    series(d150Right, { pointStyle: 'rectRot', pointRadius: 4.5, pointBackgroundColor: '#000', pointBorderColor: '#000', showLine: true, borderColor: '#000', borderWidth: 3 })
  ]
});
</script>
</body>
</html>
